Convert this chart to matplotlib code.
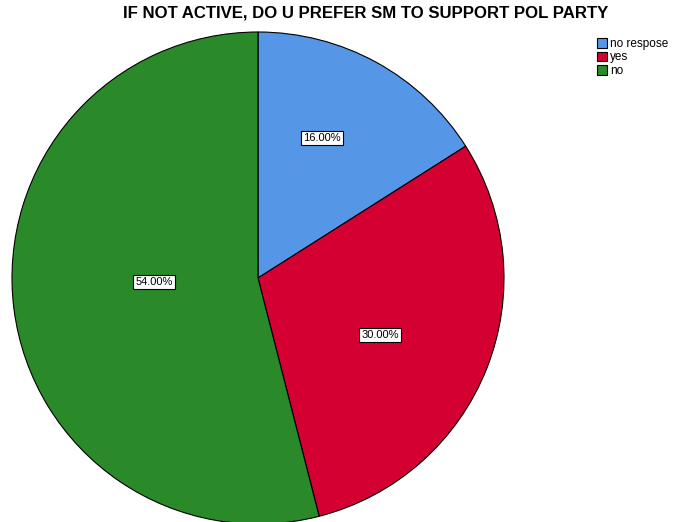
import numpy as np
import matplotlib.pyplot as plt

plt.rcParams['font.family'] = ['Liberation Sans', 'DejaVu Sans']

categories = ["no respose", "yes", "no"]
shares = [16.0, 30.0, 54.0]
colors = ["#5596E6", "#D50032", "#2A8A2A"]
# where each percentage box sits: fraction of radius, turn from slice middle (deg)
label_dist = [0.626, 0.548, 0.423]
label_turn = [4.2, -3.4, -5.0]

fig = plt.figure(figsize=(6.79, 5.22), dpi=100)
ax = fig.add_axes([12 / 679, -2 / 522, 492 / 679, 492 / 522])

wedges, _ = ax.pie(shares, colors=colors, startangle=90, counterclock=False,
                   radius=1, wedgeprops=dict(edgecolor="black", linewidth=0.8))
ax.set_xlim(-1, 1)
ax.set_ylim(-1, 1)
ax.set_aspect("equal")

# labels inside the slices
for w, v, d, t in zip(wedges, shares, label_dist, label_turn):
    ang = np.deg2rad((w.theta1 + w.theta2) / 2 + t)
    ax.text(d * np.cos(ang), d * np.sin(ang), f"{v:.2f}%", ha="center", va="center",
            fontsize=8, bbox=dict(boxstyle="square,pad=0.2", fc="white", ec="black", lw=0.8))

fig.text(366 / 679, 1 - 13 / 522, "IF NOT ACTIVE, DO U PREFER SM TO SUPPORT POL PARTY",
         ha="center", va="center", fontsize=12.1, fontweight="bold")

fig.legend(wedges, categories, loc="upper left", bbox_to_anchor=(592 / 679, 1 - 33 / 522),
           frameon=False, fontsize=8.5, handlelength=0.85, handleheight=0.9,
           handletextpad=0.3, labelspacing=0.15, borderaxespad=0)

fig.savefig("out.png", dpi=100)
